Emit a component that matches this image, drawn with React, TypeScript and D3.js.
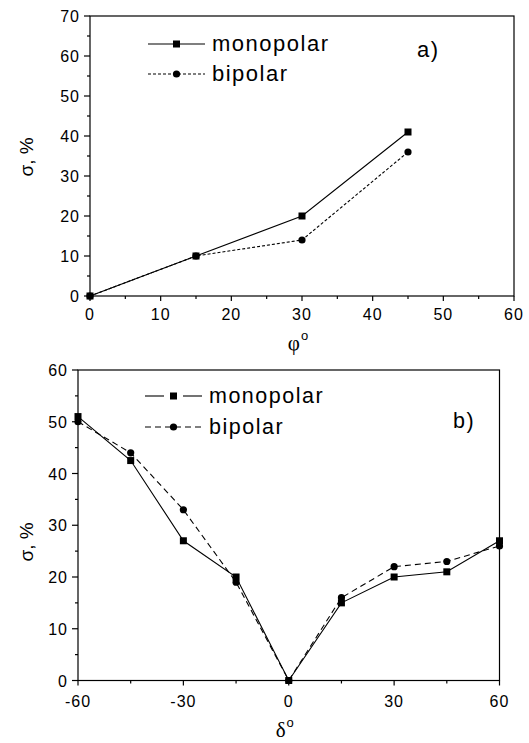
import React from "react";
import * as d3 from "d3";

// ---- data ----
const phiAngles = [0, 15, 30, 45];
const phiMonopolar = [0, 10, 20, 41];
const phiBipolar = [0, 10, 14, 36];

const deltaAngles = [-60, -45, -30, -15, 0, 15, 30, 45, 60];
const deltaMonopolar = [51, 42.5, 27, 20, 0, 15, 20, 21, 27];
const deltaBipolar = [50, 44, 33, 19, 0, 16, 22, 23, 26];

const topXTicks = [0, 10, 20, 30, 40, 50, 60];
const topXMinor = [5, 15, 25, 35, 45, 55];
const topYTicks = [0, 10, 20, 30, 40, 50, 60, 70];
const topYMinor = [5, 15, 25, 35, 45, 55, 65];

const botXTicks = [-60, -30, 0, 30, 60];
const botXMinor = [-45, -15, 15, 45];
const botYTicks = [0, 10, 20, 30, 40, 50, 60];
const botYMinor = [5, 15, 25, 35, 45, 55];

const seriesNames = ["monopolar", "bipolar"];

const SANS = "'Liberation Sans', Arial, sans-serif";
const SERIF = "'Liberation Serif', 'Times New Roman', serif";

type PanelProps = {
  x0: number; x1: number; y0: number; y1: number;
  xDomain: [number, number]; yDomain: [number, number];
  xTicks: number[]; xMinor: number[]; yTicks: number[]; yMinor: number[];
  xs: number[]; mono: number[]; bi: number[];
  biDash: string;
  xSymbol: string; letter: string;
  legendX: number; legendY1: number; legendY2: number;
  legendFont: number;
  monoLegendGap: boolean;
  letterX: number; letterY: number;
  xLabelY: number; xTitleY: number; yTitleY: number;
};

function Panel(p: PanelProps) {
  const x = d3.scaleLinear().domain(p.xDomain).range([p.x0, p.x1]);
  const y = d3.scaleLinear().domain(p.yDomain).range([p.y1, p.y0]);
  const line = d3.line<[number, number]>().x((d) => x(d[0])).y((d) => y(d[1]));
  const monoPts = p.xs.map((v, i) => [v, p.mono[i]] as [number, number]);
  const biPts = p.xs.map((v, i) => [v, p.bi[i]] as [number, number]);
  const sq = 7;
  const r = 3.6;
  const lx = p.legendX;
  const llen = 57;
  const fs = 16;
  return (
    <g>
      <rect x={p.x0} y={p.y0} width={p.x1 - p.x0} height={p.y1 - p.y0} fill="none" stroke="#000" strokeWidth={1.2} />
      {p.xTicks.map((t) => (
        <g key={"xt" + t}>
          <line x1={x(t)} x2={x(t)} y1={p.y1} y2={p.y1 + 5} stroke="#000" strokeWidth={1.2} />
          <text x={x(t)} y={p.xLabelY} textAnchor="middle" fontFamily={SANS} fontSize={fs} letterSpacing={1}>{t}</text>
        </g>
      ))}
      {p.xMinor.map((t) => (
        <line key={"xm" + t} x1={x(t)} x2={x(t)} y1={p.y1} y2={p.y1 + 3} stroke="#000" strokeWidth={1.2} />
      ))}
      {p.yTicks.map((t) => (
        <g key={"yt" + t}>
          <line x1={p.x0 - 6} x2={p.x0} y1={y(t)} y2={y(t)} stroke="#000" strokeWidth={1.2} />
          <text x={p.x0 - 10} y={y(t) + 6} textAnchor="end" fontFamily={SANS} fontSize={fs} letterSpacing={1}>{t}</text>
        </g>
      ))}
      {p.yMinor.map((t) => (
        <line key={"ym" + t} x1={p.x0 - 3} x2={p.x0} y1={y(t)} y2={y(t)} stroke="#000" strokeWidth={1.2} />
      ))}
      <text transform={`translate(33,${p.yTitleY}) rotate(-90)`} textAnchor="middle" fontFamily={SANS} fontSize={19}>σ, %</text>
      <text x={(p.x0 + p.x1) / 2 - 4} y={p.xTitleY} textAnchor="middle" fontFamily={SERIF} fontSize={21}>
        {p.xSymbol}
        <tspan fontFamily={SANS} fontSize={13} dy={-10} dx={1}>o</tspan>
      </text>
      <path d={line(monoPts) || ""} fill="none" stroke="#000" strokeWidth={1.1} />
      <path d={line(biPts) || ""} fill="none" stroke="#000" strokeWidth={1.1} strokeDasharray={p.biDash} />
      {monoPts.map((d, i) => (
        <rect key={"m" + i} x={x(d[0]) - sq / 2} y={y(d[1]) - sq / 2} width={sq} height={sq} fill="#000" />
      ))}
      {biPts.map((d, i) => (
        <circle key={"b" + i} cx={x(d[0])} cy={y(d[1])} r={r} fill="#000" />
      ))}
      {p.monoLegendGap ? (
        <g>
          <line x1={lx} x2={lx + 19} y1={p.legendY1} y2={p.legendY1} stroke="#000" strokeWidth={1.1} />
          <line x1={lx + llen - 19} x2={lx + llen} y1={p.legendY1} y2={p.legendY1} stroke="#000" strokeWidth={1.1} />
        </g>
      ) : (
        <line x1={lx} x2={lx + llen} y1={p.legendY1} y2={p.legendY1} stroke="#000" strokeWidth={1.1} />
      )}
      <rect x={lx + llen / 2 - sq / 2} y={p.legendY1 - sq / 2} width={sq} height={sq} fill="#000" />
      <line x1={lx} x2={lx + llen} y1={p.legendY2} y2={p.legendY2} stroke="#000" strokeWidth={1.1} strokeDasharray={p.biDash} />
      <circle cx={lx + llen / 2} cy={p.legendY2} r={r} fill="#000" />
      <text x={lx + llen + 7} y={p.legendY1 + 7} fontFamily={SANS} fontSize={p.legendFont} letterSpacing={1.5}>{seriesNames[0]}</text>
      <text x={lx + llen + 7} y={p.legendY2 + 7} fontFamily={SANS} fontSize={p.legendFont} letterSpacing={1.5}>{seriesNames[1]}</text>
      <text x={p.letterX} y={p.letterY} fontFamily={SANS} fontSize={p.legendFont} letterSpacing={1.5}>{p.letter}</text>
    </g>
  );
}

export default function App() {
  return (
    <svg width={529} height={743} style={{ display: "block", position: "absolute", left: 0, top: 0 }} viewBox="0 0 529 743">
      <rect x={0} y={0} width={529} height={743} fill="#fff" />
      <Panel
        x0={90} x1={514} y0={16} y1={296}
        xDomain={[0, 60]} yDomain={[0, 70]}
        xTicks={topXTicks} xMinor={topXMinor} yTicks={topYTicks} yMinor={topYMinor}
        xs={phiAngles} mono={phiMonopolar} bi={phiBipolar}
        biDash="3,2"
        xSymbol="φ" letter="a)"
        legendX={148} legendY1={44} legendY2={74}
        legendFont={22}
        monoLegendGap={false}
        letterX={417} letterY={57}
        xLabelY={320} xTitleY={350} yTitleY={157}
      />
      <Panel
        x0={78} x1={499.5} y0={370} y1={680.5}
        xDomain={[-60, 60]} yDomain={[0, 60]}
        xTicks={botXTicks} xMinor={botXMinor} yTicks={botYTicks} yMinor={botYMinor}
        xs={deltaAngles} mono={deltaMonopolar} bi={deltaBipolar}
        biDash="6,4"
        xSymbol="δ" letter="b)"
        legendX={145} legendY1={396} legendY2={427}
        legendFont={21.5}
        monoLegendGap={true}
        letterX={453} letterY={428}
        xLabelY={707} xTitleY={737} yTitleY={542}
      />
    </svg>
  );
}
